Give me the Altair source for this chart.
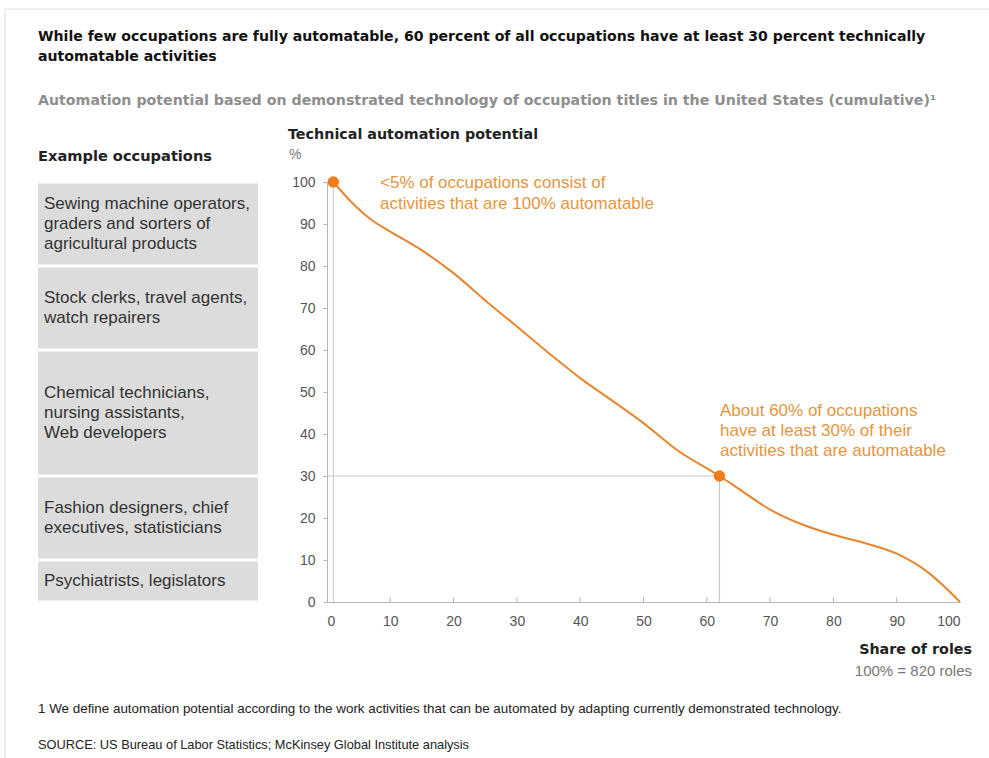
import altair as alt
import pandas as pd

# ---- data ----
share = [1, 4, 7, 10, 15, 20, 25, 30, 35, 40, 45, 50, 55, 62, 65, 70, 75, 80, 85, 90, 95, 100]
potential = [100, 95, 91, 88.2, 83.7, 78.3, 71.8, 65.6, 59.3, 53.3, 48, 42.6, 36.5, 30, 27, 22, 18.5, 16, 14, 11.5, 7, 0]

occupations = [
    "Sewing machine operators,\ngraders and sorters of\nagricultural products",
    "Stock clerks, travel agents,\nwatch repairers",
    "Chemical technicians,\nnursing assistants,\nWeb developers",
    "Fashion designers, chief\nexecutives, statisticians",
    "Psychiatrists, legislators",
]
band_hi = [100, 80, 60, 30, 10]
band_lo = [80, 60, 30, 10, 0]

highlight_share = [1, 62]
highlight_potential = [100, 30]

x_ticks = [0, 10, 20, 30, 40, 50, 60, 70, 80, 90, 100]
y_ticks = [0, 10, 20, 30, 40, 50, 60, 70, 80, 90, 100]

title_lines = [
    "While few occupations are fully automatable, 60 percent of all occupations have at least 30 percent technically",
    "automatable activities",
]
subtitle = "Automation potential based on demonstrated technology of occupation titles in the United States (cumulative)\u00b9"
y_title = "Technical automation potential"
y_unit = "%"
left_header = "Example occupations"
note1 = "<5% of occupations consist of\nactivities that are 100% automatable"
note2 = "About 60% of occupations\nhave at least 30% of their\nactivities that are automatable"
x_title = "Share of roles"
x_sub = "100% = 820 roles"
footnote = "1   We define automation potential according to the work activities that can be automated by adapting currently demonstrated technology."
source = "SOURCE: US Bureau of Labor Statistics; McKinsey Global Institute analysis"

# ---- layout constants ----
OX, OY = 327, 182          # plot origin in page pixels
W, H = 633, 420
FONT = "Liberation Sans"
BOLD = "DejaVu Sans"
ORANGE = "#E8862E"
ORANGE_TXT = "#E59540"
LINE_H = 20

curve_df = pd.DataFrame({"share": share, "potential": potential})
n_lines = [o.count("\n") + 1 for o in occupations]
band_df = pd.DataFrame({
    "occ": occupations, "hi": band_hi, "lo": band_lo,
    # anchor of first text line so that the block is centred in its band
    "anchor": [(a + b) / 2 + (n - 1) * (LINE_H / 2) * 100 / H
               for a, b, n in zip(band_hi, band_lo, n_lines)],
})
hl_df = pd.DataFrame({"share": highlight_share, "potential": highlight_potential})
tick_df = pd.DataFrame({"t": x_ticks[1:-1]})
one = pd.DataFrame({"a": [0]})

xs = alt.Scale(domain=[0, 100], nice=False)
ys = alt.Scale(domain=[0, 100], nice=False)

def px(x):
    return x - OX

def py(y):
    return y - OY

def label(text, x, y, size=14, weight="normal", color="#222222", align="left", font=FONT, line_height=20):
    return alt.Chart(one).mark_text(
        text=text, align=align, baseline="middle", font=font, fontSize=size,
        fontWeight=weight, color=color, lineHeight=line_height,
    ).encode(x=alt.value(px(x)), y=alt.value(py(y)))

# axes layer
axes = alt.Chart(curve_df).mark_line(opacity=0).encode(
    x=alt.X("share:Q", scale=xs, title=None,
            axis=alt.Axis(values=x_ticks, ticks=False, tickSize=0, labelPadding=12,
                          labelFontSize=14, labelColor="#555555", labelFont=FONT,
                          domainColor="#b5b5b5", grid=False)),
    y=alt.Y("potential:Q", scale=ys, title=None,
            axis=alt.Axis(values=y_ticks, tickSize=4, tickColor="#b5b5b5", labelPadding=8,
                          labelFontSize=14, labelColor="#555555", labelFont=FONT,
                          domainColor="#b5b5b5", grid=False)),
)

xtick_marks = alt.Chart(tick_df).mark_rule(color="#b5b5b5", strokeWidth=1).encode(
    x=alt.X("t:Q", scale=xs), y=alt.datum(0), y2=alt.datum(1.1)
)

left_rule = alt.Chart(one).mark_rule(color="#c8c8c8", strokeWidth=1).encode(
    x=alt.datum(1, scale=xs), y=alt.datum(0), y2=alt.datum(100)
)

ref_h = alt.Chart(one).mark_rule(color="#c8c8c8", strokeWidth=1.2).encode(
    x=alt.datum(0), x2=alt.datum(62), y=alt.datum(30)
)
ref_v = alt.Chart(one).mark_rule(color="#c8c8c8", strokeWidth=1.2).encode(
    x=alt.datum(62), y=alt.datum(0), y2=alt.datum(30)
)

curve = alt.Chart(curve_df).mark_line(color=ORANGE, strokeWidth=2, interpolate="monotone").encode(
    x=alt.X("share:Q", scale=xs), y=alt.Y("potential:Q", scale=ys)
)

dots = alt.Chart(hl_df).mark_point(filled=True, size=130, color="#F07C1C", opacity=1).encode(
    x=alt.X("share:Q", scale=xs), y=alt.Y("potential:Q", scale=ys)
)

boxes = alt.Chart(band_df).mark_rect(color="#dcdcdc", yOffset=1.5, y2Offset=-1.5).encode(
    x=alt.value(px(38)), x2=alt.value(px(258)),
    y=alt.Y("hi:Q", scale=ys), y2="lo:Q",
)
box_text = alt.Chart(band_df).mark_text(
    align="left", baseline="middle", font=FONT, fontSize=17, color="#333333", lineHeight=LINE_H,
    lineBreak="\n",
).encode(x=alt.value(px(44)), y=alt.Y("anchor:Q", scale=ys), text="occ:N")

frame_top = alt.Chart(one).mark_rule(color="#dedede", strokeWidth=1).encode(
    x=alt.value(px(5)), x2=alt.value(px(989)), y=alt.value(py(9))
)
frame_left = alt.Chart(one).mark_rule(color="#dedede", strokeWidth=1).encode(
    x=alt.value(px(5)), y=alt.value(py(9)), y2=alt.value(py(758))
)

texts = [
    label(title_lines[0], 38, 37, size=14.1, weight="bold", color="#111111", font=BOLD),
    label(title_lines[1], 38, 57, size=14.1, weight="bold", color="#111111", font=BOLD),
    label(subtitle, 38, 101, size=14.2, weight="bold", color="#8e8e8e", font=BOLD),
    label(y_title, 288, 135, size=14.3, weight="bold", color="#222222", font=BOLD),
    label(y_unit, 289, 155, size=14, color="#777777"),
    label(left_header, 38, 157, size=14.6, weight="bold", color="#222222", font=BOLD),
    label(note1.split("\n"), 380, 183, size=17, color=ORANGE_TXT, line_height=21),
    label(note2.split("\n"), 720, 411, size=17, color=ORANGE_TXT, line_height=20),
    label(x_title, 972, 650, size=14.3, weight="bold", color="#222222", align="right", font=BOLD),
    label(x_sub, 972, 671, size=15, color="#777777", align="right"),
    label(footnote, 38, 709, size=13.4, color="#222222"),
    label(source, 38, 745, size=12.8, color="#222222"),
]

chart = alt.layer(
    frame_top, frame_left, boxes, box_text, axes, xtick_marks, left_rule, ref_h, ref_v,
    curve, dots, *texts
).properties(
    width=W, height=H,
    autosize=alt.AutoSizeParams(type="none"),
    padding={"left": OX, "top": OY, "right": 989 - OX - W, "bottom": 758 - OY - H},
    background="white",
).configure_view(stroke=None)

chart.save("out.html", embed_options={"renderer": "svg", "actions": False})
